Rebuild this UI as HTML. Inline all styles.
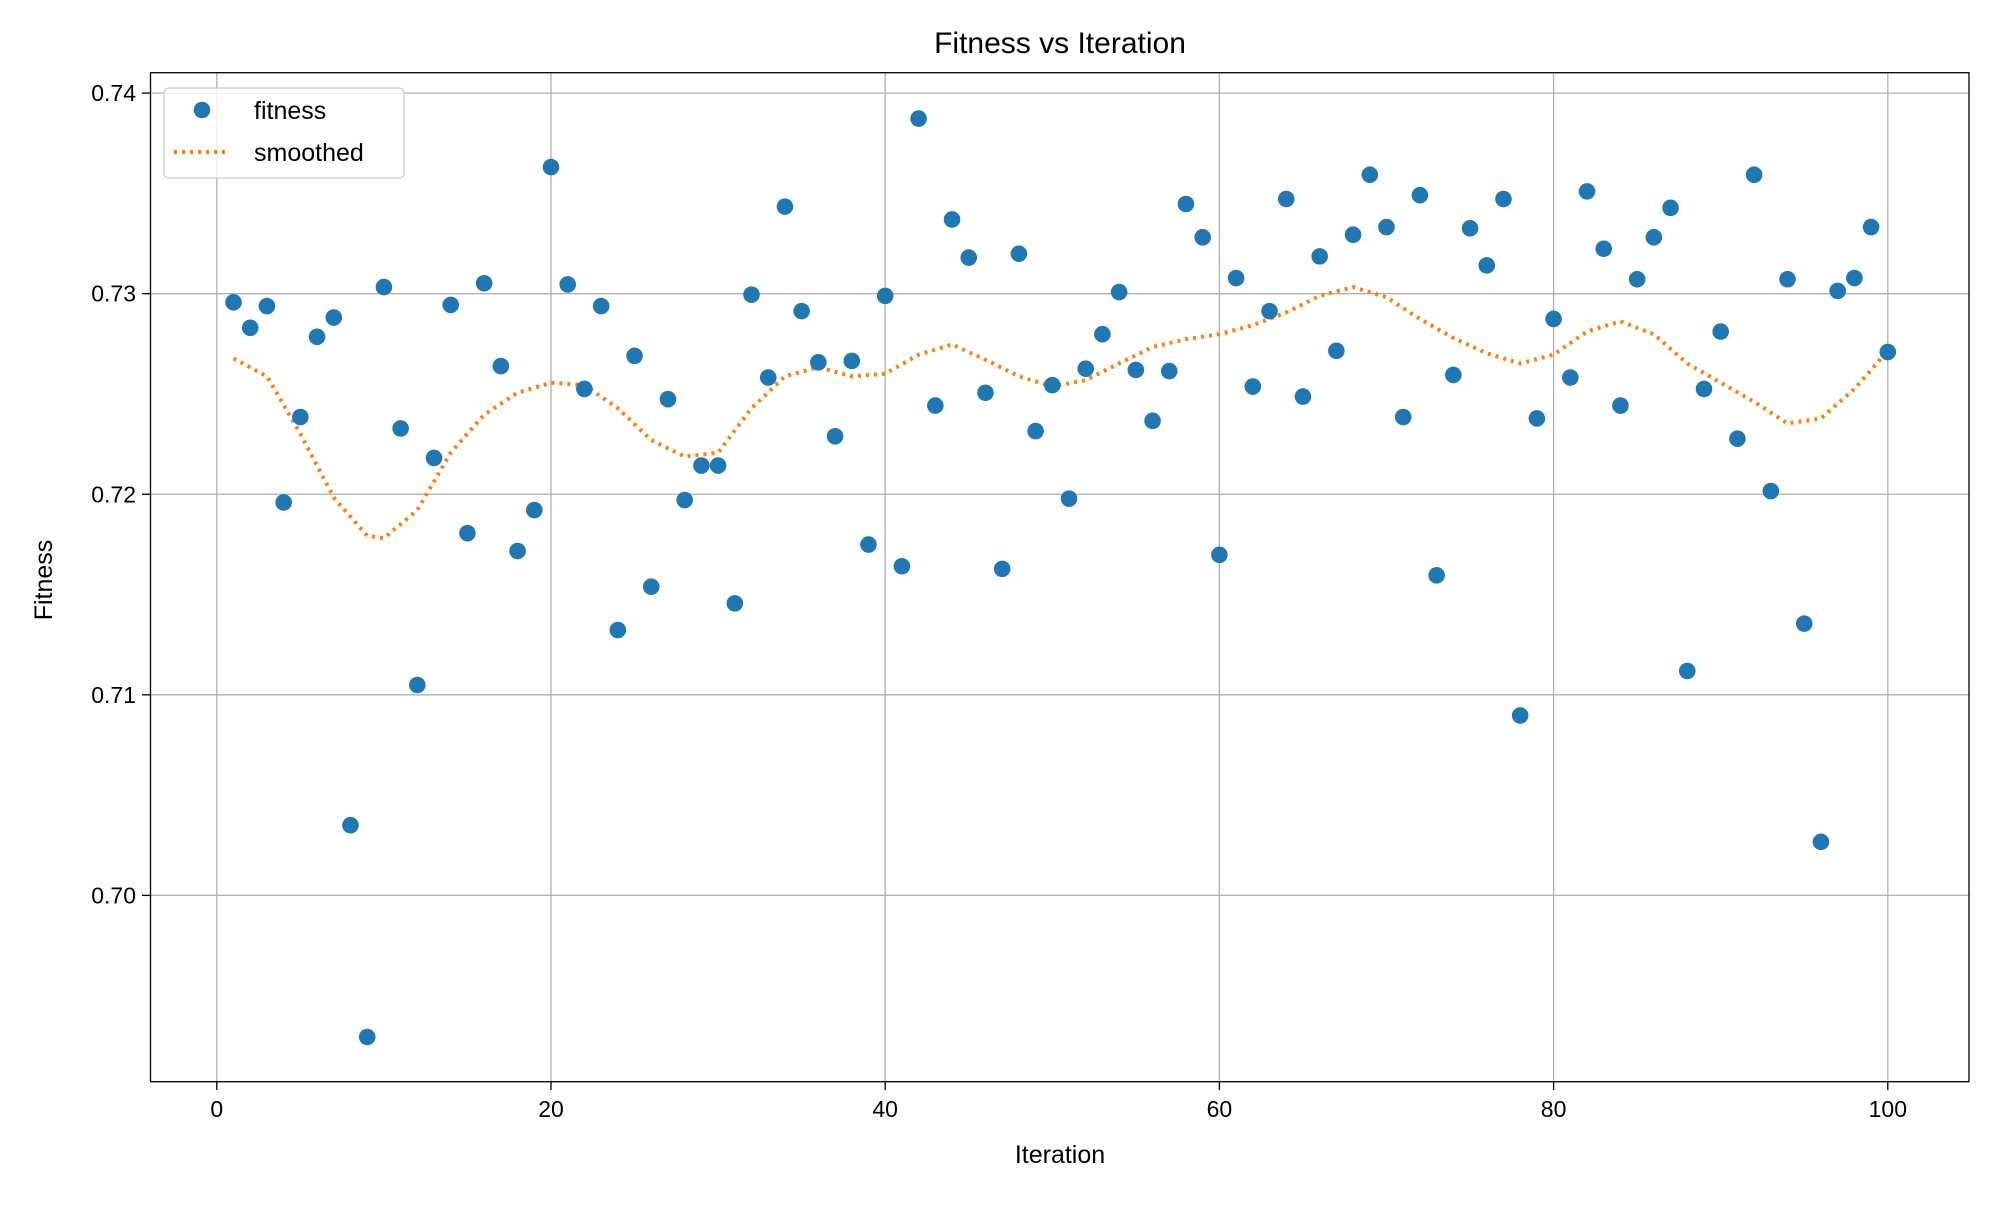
<!DOCTYPE html>
<html><head><meta charset="utf-8"><style>
body{margin:0;background:#fff;}
svg text{font-family:"Liberation Sans","DejaVu Sans",sans-serif;fill:#000;}
</style></head><body>
<svg id="chart" width="2000" height="1200" xmlns="http://www.w3.org/2000/svg">
<rect width="2000" height="1200" fill="#fff"/>
<g id="grid"></g>
<g id="ticks"></g>
<g id="smooth"></g>
<g id="points"></g>
<rect x="150.5" y="72.7" width="1818.5" height="1009" fill="none" stroke="#000" stroke-width="1.3"/>
<text x="1060" y="53" font-size="30" text-anchor="middle">Fitness vs Iteration</text>
<text x="1060" y="1163" font-size="25" text-anchor="middle">Iteration</text>
<text transform="translate(52,580) rotate(-90)" font-size="25" text-anchor="middle">Fitness</text>
<g>
<rect x="164" y="88" width="240" height="90" rx="5" fill="#fff" fill-opacity="0.8" stroke="#ccc" stroke-width="1.3"/>
<circle cx="202" cy="110" r="8.3" fill="#1f77b4"/>
<text x="254" y="119" font-size="25">fitness</text>
<line x1="174" y1="152" x2="230" y2="152" stroke="#ff7f0e" stroke-width="4" stroke-dasharray="3,5"/>
<text x="254" y="161" font-size="25">smoothed</text>
</g>
</svg>
<script>
const fitness=[0.72957,0.72830,0.72938,0.71959,0.72385,0.72785,0.72881,0.70350,0.69294,0.73033,
0.72328,0.71049,0.72181,0.72944,0.71806,0.73052,0.72639,0.71717,0.71921,0.73631,
0.73046,0.72525,0.72938,0.71323,0.72690,0.71539,0.72474,0.71971,0.72143,0.72143,
0.71456,0.72995,0.72582,0.73434,0.72913,0.72658,0.72289,0.72665,0.71749,0.72989,
0.71641,0.73873,0.72442,0.73370,0.73180,0.72506,0.71628,0.73199,0.72315,0.72544,
0.71978,0.72626,0.72798,0.73008,0.72620,0.72366,0.72614,0.73447,0.73281,0.71698,
0.73078,0.72537,0.72913,0.73472,0.72487,0.73186,0.72715,0.73294,0.73593,0.73332,
0.72385,0.73491,0.71596,0.72595,0.73326,0.73141,0.73472,0.70897,0.72378,0.72874,
0.72582,0.73510,0.73224,0.72442,0.73072,0.73281,0.73428,0.71119,0.72525,0.72811,
0.72277,0.73593,0.72016,0.73072,0.71355,0.70267,0.73014,0.73078,0.73332,0.72709];
const smoothX=[1,3,5,7,9,10,12,14,16,18,20,22,24,26,28,30,32,34,36,38,40,42,44,46,48,50,52,54,56,58,60,62,64,66,68,70,72,74,76,78,80,82,84,86,88,90,92,94,96,98,100];
const smoothY=[0.72677,0.72588,0.72302,0.71984,0.71793,0.71781,0.71921,0.72207,0.72397,0.72506,0.72556,0.72544,0.72429,0.72270,0.72188,0.72207,0.72429,0.72588,0.72633,0.72588,0.72601,0.72696,0.72747,0.72671,0.72588,0.72537,0.72569,0.72652,0.72734,0.72773,0.72798,0.72843,0.72906,0.72989,0.73033,0.72982,0.72874,0.72779,0.72703,0.72652,0.72696,0.72811,0.72862,0.72798,0.72652,0.72556,0.72461,0.72353,0.72378,0.72525,0.72715];
const xTicks=[0,20,40,60,80,100];
const yTicks=[0.70,0.71,0.72,0.73,0.74];
const yTickLabels=["0.70","0.71","0.72","0.73","0.74"];
const NS="http://www.w3.org/2000/svg";
const X=v=>216.8+v*16.71;
const Y=v=>93.1+(0.74-v)/0.04*802.3;
function mk(tag,attrs,parent){const e=document.createElementNS(NS,tag);for(const k in attrs)e.setAttribute(k,attrs[k]);parent.appendChild(e);return e;}
const grid=document.getElementById('grid'),ticks=document.getElementById('ticks');
xTicks.forEach(t=>{
 const g=mk('line',{x1:X(t),x2:X(t),y1:72.7,y2:1081.7,stroke:'#b0b0b0','stroke-width':1.3},grid);
 
 
 mk('line',{x1:X(t),x2:X(t),y1:1081.7,y2:1090,stroke:'#000','stroke-width':1.3},ticks);
 const tx=mk('text',{x:X(t),y:1117,'font-size':23,'text-anchor':'middle'},ticks);
 tx.textContent=t;
 
 
});
yTicks.forEach((t,i)=>{
 const g=mk('line',{x1:150.5,x2:1969,y1:Y(t),y2:Y(t),stroke:'#b0b0b0','stroke-width':1.3},grid);
 
 
 mk('line',{x1:142,x2:150.5,y1:Y(t),y2:Y(t),stroke:'#000','stroke-width':1.3},ticks);
 const tx=mk('text',{x:136,y:Y(t)+8,'font-size':23,'text-anchor':'end'},ticks);
 tx.textContent=yTickLabels[i];
 
 
});
const pts=document.getElementById('points');
fitness.forEach((v,i)=>{
 const c=mk('circle',{cx:X(i+1),cy:Y(v),r:8.3,fill:'#1f77b4'},pts);
 
 
});
const p=mk('polyline',{points:smoothX.map((x,i)=>X(x)+','+Y(smoothY[i])).join(' '),fill:'none',stroke:'#ff7f0e','stroke-width':4,'stroke-dasharray':'3,5'},document.getElementById('smooth'));


</script>
</body></html>
